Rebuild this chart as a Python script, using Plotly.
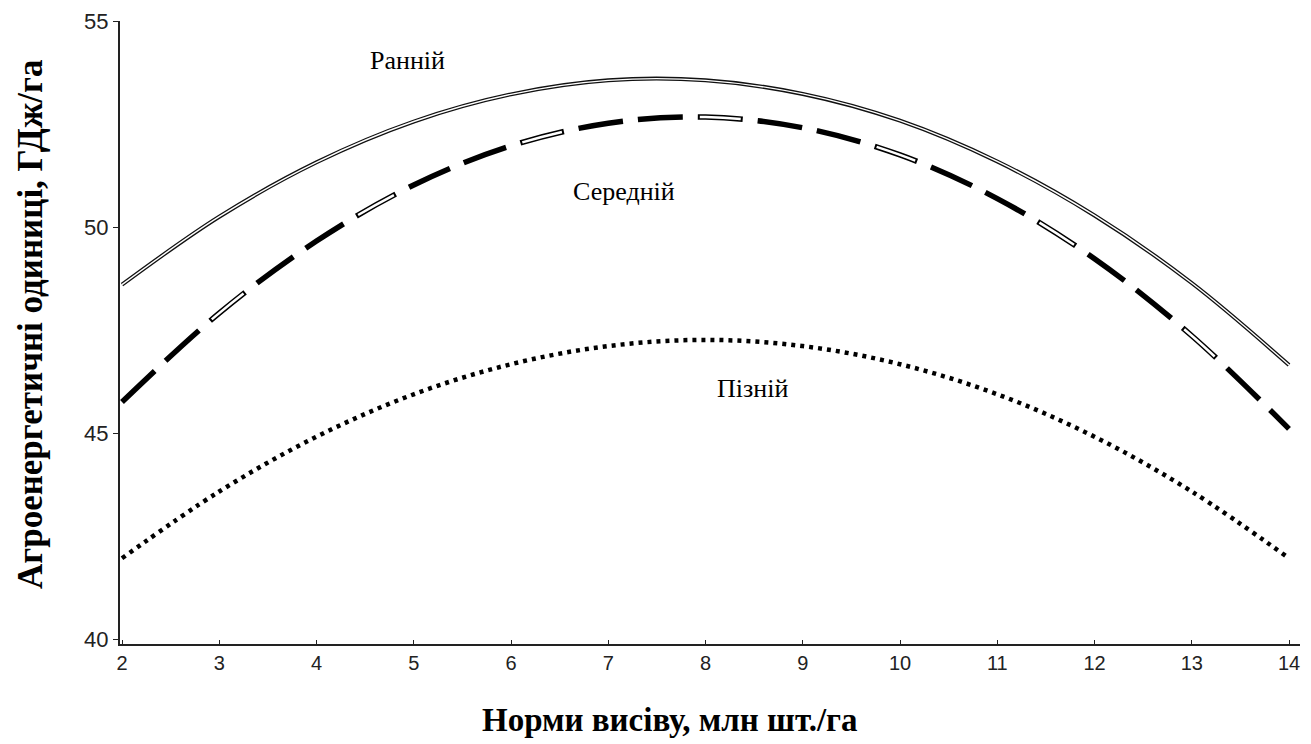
import plotly.graph_objects as go

# Data
x_vals = [2, 3, 4, 5, 6, 7, 8, 9, 10, 11, 12, 13, 14]
rannii = [48.60, 50.25, 51.57, 52.56, 53.22, 53.56, 53.56, 53.23, 52.58, 51.59, 50.28, 48.64, 46.65]
serednii = [45.75, 47.91, 49.66, 51.02, 51.97, 52.52, 52.67, 52.41, 51.75, 50.69, 49.23, 47.36, 45.10]
piznii = [41.96, 43.58, 44.91, 45.94, 46.67, 47.11, 47.26, 47.11, 46.67, 45.94, 44.91, 43.58, 41.96]

labels = ["Ранній", "Середній", "Пізній"]
label_x = [4.94, 7.16, 8.48]
label_y = [54.05, 50.85, 46.09]

x_ticks = list(range(2, 15))
y_ticks = [40, 45, 50, 55]

fig = go.Figure()

# Ранній: double line (black outline, white core)
fig.add_trace(go.Scatter(x=x_vals, y=rannii, mode="lines", line=dict(color="#111", width=4, shape="spline"),
                         showlegend=False, hoverinfo="skip"))
fig.add_trace(go.Scatter(x=x_vals, y=rannii, mode="lines", line=dict(color="white", width=1.4, shape="spline"),
                         showlegend=False, hoverinfo="skip"))

# Середній: heavy dashes, some hollow
fig.add_trace(go.Scatter(x=x_vals, y=serednii, mode="lines",
                         line=dict(color="black", width=5.5, shape="spline", dash="45px,15px"),
                         showlegend=False, hoverinfo="skip"))
fig.add_trace(go.Scatter(x=x_vals, y=serednii, mode="lines",
                         line=dict(color="white", width=2.5, shape="spline", dash="0px,122px,41px,17px"),
                         showlegend=False, hoverinfo="skip"))

# Пізній: dotted
fig.add_trace(go.Scatter(x=x_vals, y=piznii, mode="lines",
                         line=dict(color="black", width=4.5, shape="spline", dash="4px,5px"),
                         showlegend=False, hoverinfo="skip"))

for t, lx, ly in zip(labels, label_x, label_y):
    fig.add_annotation(x=lx, y=ly, text=t, showarrow=False, xanchor="center", yanchor="middle",
                       font=dict(family="Liberation Serif", size=26, color="black"))

# axis titles
fig.add_annotation(xref="paper", yref="paper", x=(670 - 120) / 1180, y=0, yshift=-76,
                   text="<b>Норми висіву, млн шт./га</b>", showarrow=False, xanchor="center", yanchor="middle",
                   font=dict(family="Liberation Serif", size=33, color="black"))
fig.add_annotation(xref="paper", yref="paper", x=0, xshift=-90, y=(644 - 325) / 623,
                   text="<b>Агроенергетичні одиниці, ГДж/га</b>", showarrow=False, textangle=-90,
                   xanchor="center", yanchor="middle",
                   font=dict(family="Liberation Serif", size=35, color="black"))

fig.update_layout(
    width=1311, height=744,
    margin=dict(l=112, r=19, t=13, b=108),
    paper_bgcolor="white", plot_bgcolor="white",
    xaxis=dict(range=[2 - 2 / 97.25, 14 + 11 / 97.25], tickvals=x_ticks, ticktext=[str(v) for v in x_ticks],
               showgrid=False, zeroline=False, showline=True, linecolor="#222", linewidth=2,
               ticks="inside", ticklen=4, tickcolor="#222", automargin=False,
               tickfont=dict(family="Liberation Sans", size=20, color="#222")),
    yaxis=dict(range=[40 - 5 / 41.2, 55], tickvals=y_ticks, ticktext=[str(v) for v in y_ticks],
               showgrid=False, zeroline=False, showline=True, linecolor="#222", linewidth=2,
               ticks="outside", ticklen=5, tickcolor="#222", automargin=False,
               tickfont=dict(family="Liberation Sans", size=22, color="#222")),
)

fig.write_html("out.html")
